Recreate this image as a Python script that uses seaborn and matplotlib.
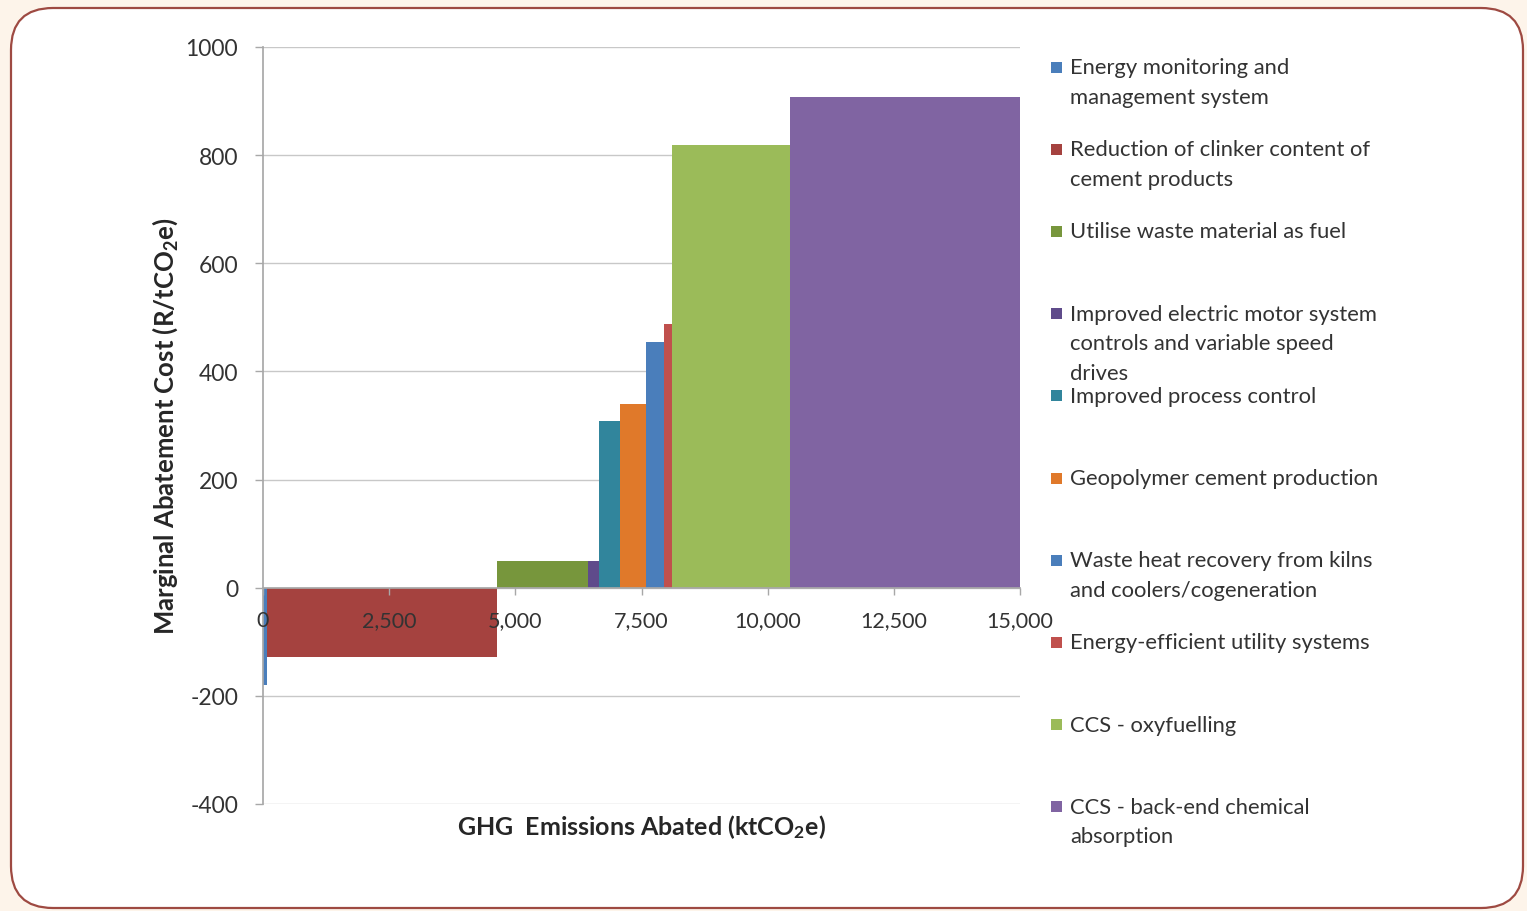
import matplotlib
matplotlib.use("Agg")
import matplotlib.pyplot as plt
import seaborn as sns
import numpy as np
from matplotlib.patches import FancyBboxPatch, Rectangle
from matplotlib.transforms import IdentityTransform
from matplotlib.ticker import StrMethodFormatter

# abatement measures, in merit order
measures = [
    "Energy monitoring and\nmanagement system",
    "Reduction of clinker content of\ncement products",
    "Utilise waste material as fuel",
    "Improved electric motor system\ncontrols and variable speed\ndrives",
    "Improved process control",
    "Geopolymer cement production",
    "Waste heat recovery from kilns\nand coolers/cogeneration",
    "Energy-efficient utility systems",
    "CCS - oxyfuelling",
    "CCS - back-end chemical\nabsorption",
]
abated = [80, 4560, 1790, 220, 415, 515, 375, 140, 2340, 4580]       # ktCO2e
cost = [-180, -128, 50, 50, 309, 339, 454, 487, 818, 907]             # R/tCO2e
colors = ["#4A7EBB", "#A5423F", "#77963C", "#5F4B8B", "#31859C",
          "#E0792A", "#4A7EBB", "#C0504D", "#9BBB59", "#8064A2"]

y_ticks = [-400, -200, 0, 200, 400, 600, 800, 1000]
x_ticks = [0, 2500, 5000, 7500, 10000, 12500, 15000]

sns.set_theme(style="white")
plt.rcParams['font.family'] = ['Lato', 'DejaVu Sans']
plt.rcParams['mathtext.default'] = 'regular'
plt.rcParams['axes.unicode_minus'] = False

W, H = 1527, 912
fig = plt.figure(figsize=(W / 100, H / 100), dpi=100)
fig.patch.set_facecolor("#FDF4EA")

# rounded frame
frame = FancyBboxPatch((11, 3), 1512, 900, boxstyle="round,pad=0,rounding_size=42",
                       transform=IdentityTransform(), facecolor="white",
                       edgecolor="#9E4A42", linewidth=1.6, zorder=-10)
fig.add_artist(frame)

ax = fig.add_axes([263 / W, 1 - 805 / H, 757 / W, (805 - 48) / H])
ax.set_facecolor("none")

left = np.concatenate([[0], np.cumsum(abated)[:-1]])
ax.bar(left, cost, width=abated, align="edge", color=colors, linewidth=0, zorder=2)

ax.set_xlim(0, 15000)
ax.set_ylim(-400, 1000)
ax.set_yticks(y_ticks)
ax.set_xticks(x_ticks)
ax.xaxis.set_major_formatter(StrMethodFormatter("{x:,.0f}"))

ax.yaxis.grid(True, color="#C8C8C8", linewidth=1)
ax.xaxis.grid(False)
ax.set_axisbelow(True)
ax.xaxis.set_zorder(3)

for s in ["top", "right"]:
    ax.spines[s].set_visible(False)
ax.spines["left"].set_color("#A8A8A8")
ax.spines["bottom"].set_color("#A8A8A8")
ax.spines["bottom"].set_position(("data", 0))
ax.spines["bottom"].set_zorder(2.6)

ax.tick_params(axis="y", length=6, width=1, color="#A8A8A8", direction="out",
               pad=12, labelsize=16.5, labelcolor="#333333", left=True)
ax.tick_params(axis="x", length=5, width=1, color="#A8A8A8", direction="out",
               pad=11, labelsize=15.5, labelcolor="#333333", bottom=True)

ax.text(0.5, -0.029, r"GHG  Emissions Abated (ktCO$_2$e)", transform=ax.transAxes,
        ha="center", va="center", fontsize=18, fontweight="bold", color="#262626")
ax.text(-0.1295, 0.5, r"Marginal Abatement Cost (R/tCO$_2$e)", transform=ax.transAxes,
        rotation=90, ha="center", va="center", fontsize=18.5, fontweight="bold",
        color="#262626")

# legend, laid out like the spreadsheet one
for i, (lab, c) in enumerate(zip(measures, colors)):
    yc = 68 + i * 82.2
    fig.add_artist(Rectangle((1051, H - yc - 5.5), 11, 11, transform=IdentityTransform(),
                             facecolor=c, edgecolor="none"))
    fig.text(1070 / W, 1 - (yc - 10) / H, lab, ha="left", va="top", fontsize=15.8,
             color="#333333", linespacing=1.6)

fig.savefig("out.png", dpi=100, facecolor=fig.get_facecolor())
